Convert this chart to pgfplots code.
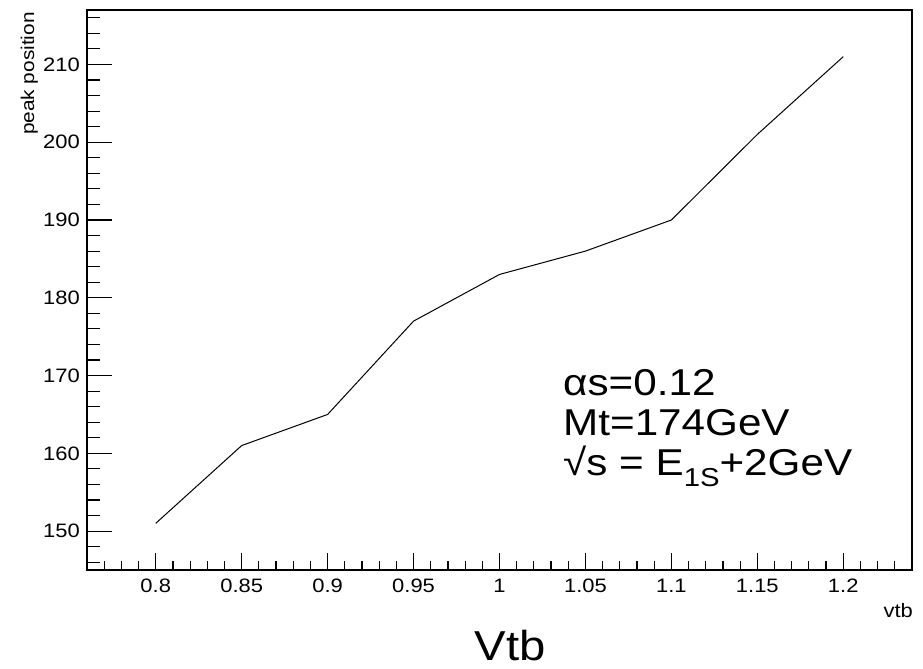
\documentclass[border=0pt]{standalone}
\usepackage{fontspec}
\setmainfont{Liberation Sans}[FakeStretch=1.13]
\usepackage{pgfplots}
\pgfplotsset{compat=1.18}
\begin{document}
\begin{tikzpicture}
\path[use as bounding box] (0,0) rectangle (923bp,669bp);
\begin{axis}[at={(87bp,99bp)}, anchor=south west, scale only axis,
  width=825bp, height=560bp,
  xmin=0.76, xmax=1.24, ymin=145, ymax=217,
  xtick={0.8,0.85,0.9,0.95,1,1.05,1.1,1.15,1.2},
  minor xtick={0.77,0.78,0.79,0.81,0.82,0.83,0.84,0.86,0.87,0.88,0.89,0.91,0.92,0.93,0.94,0.96,0.97,0.98,0.99,1.01,1.02,1.03,1.04,1.06,1.07,1.08,1.09,1.11,1.12,1.13,1.14,1.16,1.17,1.18,1.19,1.21,1.22,1.23},
  ytick=\empty,
  tick align=inside, xtick pos=bottom,
  major tick length=17bp, minor tick length=8.5bp,
  axis line style={line width=1.4bp},
  every tick/.style={line width=1.2bp, black},
  xticklabel style={font=\fontsize{19.5}{19.5}\selectfont, inner sep=0pt, anchor=base, yshift=-23bp},
  /pgf/number format/assume math mode=true,
  /pgf/number format/fixed, /pgf/number format/precision=2,
]
\addplot[black, line width=1bp] coordinates {
  (0.80,151) (0.85,161) (0.90,165) (0.95,177) (1.00,183)
  (1.05,186) (1.10,190) (1.15,201) (1.20,211)
};
\end{axis}
\begin{axis}[at={(87bp,99bp)}, anchor=south west, scale only axis,
  width=825bp, height=560bp,
  xmin=0.76, xmax=1.24, ymin=145, ymax=217,
  xtick=\empty,
  ytick={150,160,170,180,190,200,210},
  minor ytick={146,148,152,154,156,158,162,164,166,168,172,174,176,178,182,184,186,188,192,194,196,198,202,204,206,208,212,214,216},
  tick align=inside, ytick pos=left,
  major tick length=25bp, minor tick length=12.5bp,
  axis line style={line width=1.4bp},
  every tick/.style={line width=1.2bp, black},
  yticklabel style={font=\fontsize{19.5}{19.5}\selectfont, inner sep=0pt, xshift=-7bp},
  /pgf/number format/assume math mode=true,
]
\end{axis}
\node[rotate=90, anchor=base east, inner sep=0pt, font=\fontsize{18.5}{18.5}\selectfont] at (34bp,657bp) {peak position};
\node[anchor=base east, inner sep=0pt, font=\fontsize{19.5}{19.5}\selectfont] at (913bp,51bp) {vtb};
\node[anchor=base, inner sep=0pt, font=\fontsize{42}{42}\selectfont] at (510bp,9bp) {Vtb};
\node[anchor=base west, inner sep=0pt, font=\fontsize{37.5}{37.5}\selectfont] at (563bp,273bp) {αs=0.12};
\node[anchor=base west, inner sep=0pt, font=\fontsize{37.5}{37.5}\selectfont] at (563bp,233bp) {Mt=174GeV};
\node[anchor=base west, inner sep=0pt, font=\fontsize{37.5}{37.5}\selectfont] at (563bp,193bp) {√s = E\raisebox{-0.28em}{\fontsize{26}{26}\selectfont 1S}+2GeV};
\end{tikzpicture}
\end{document}
